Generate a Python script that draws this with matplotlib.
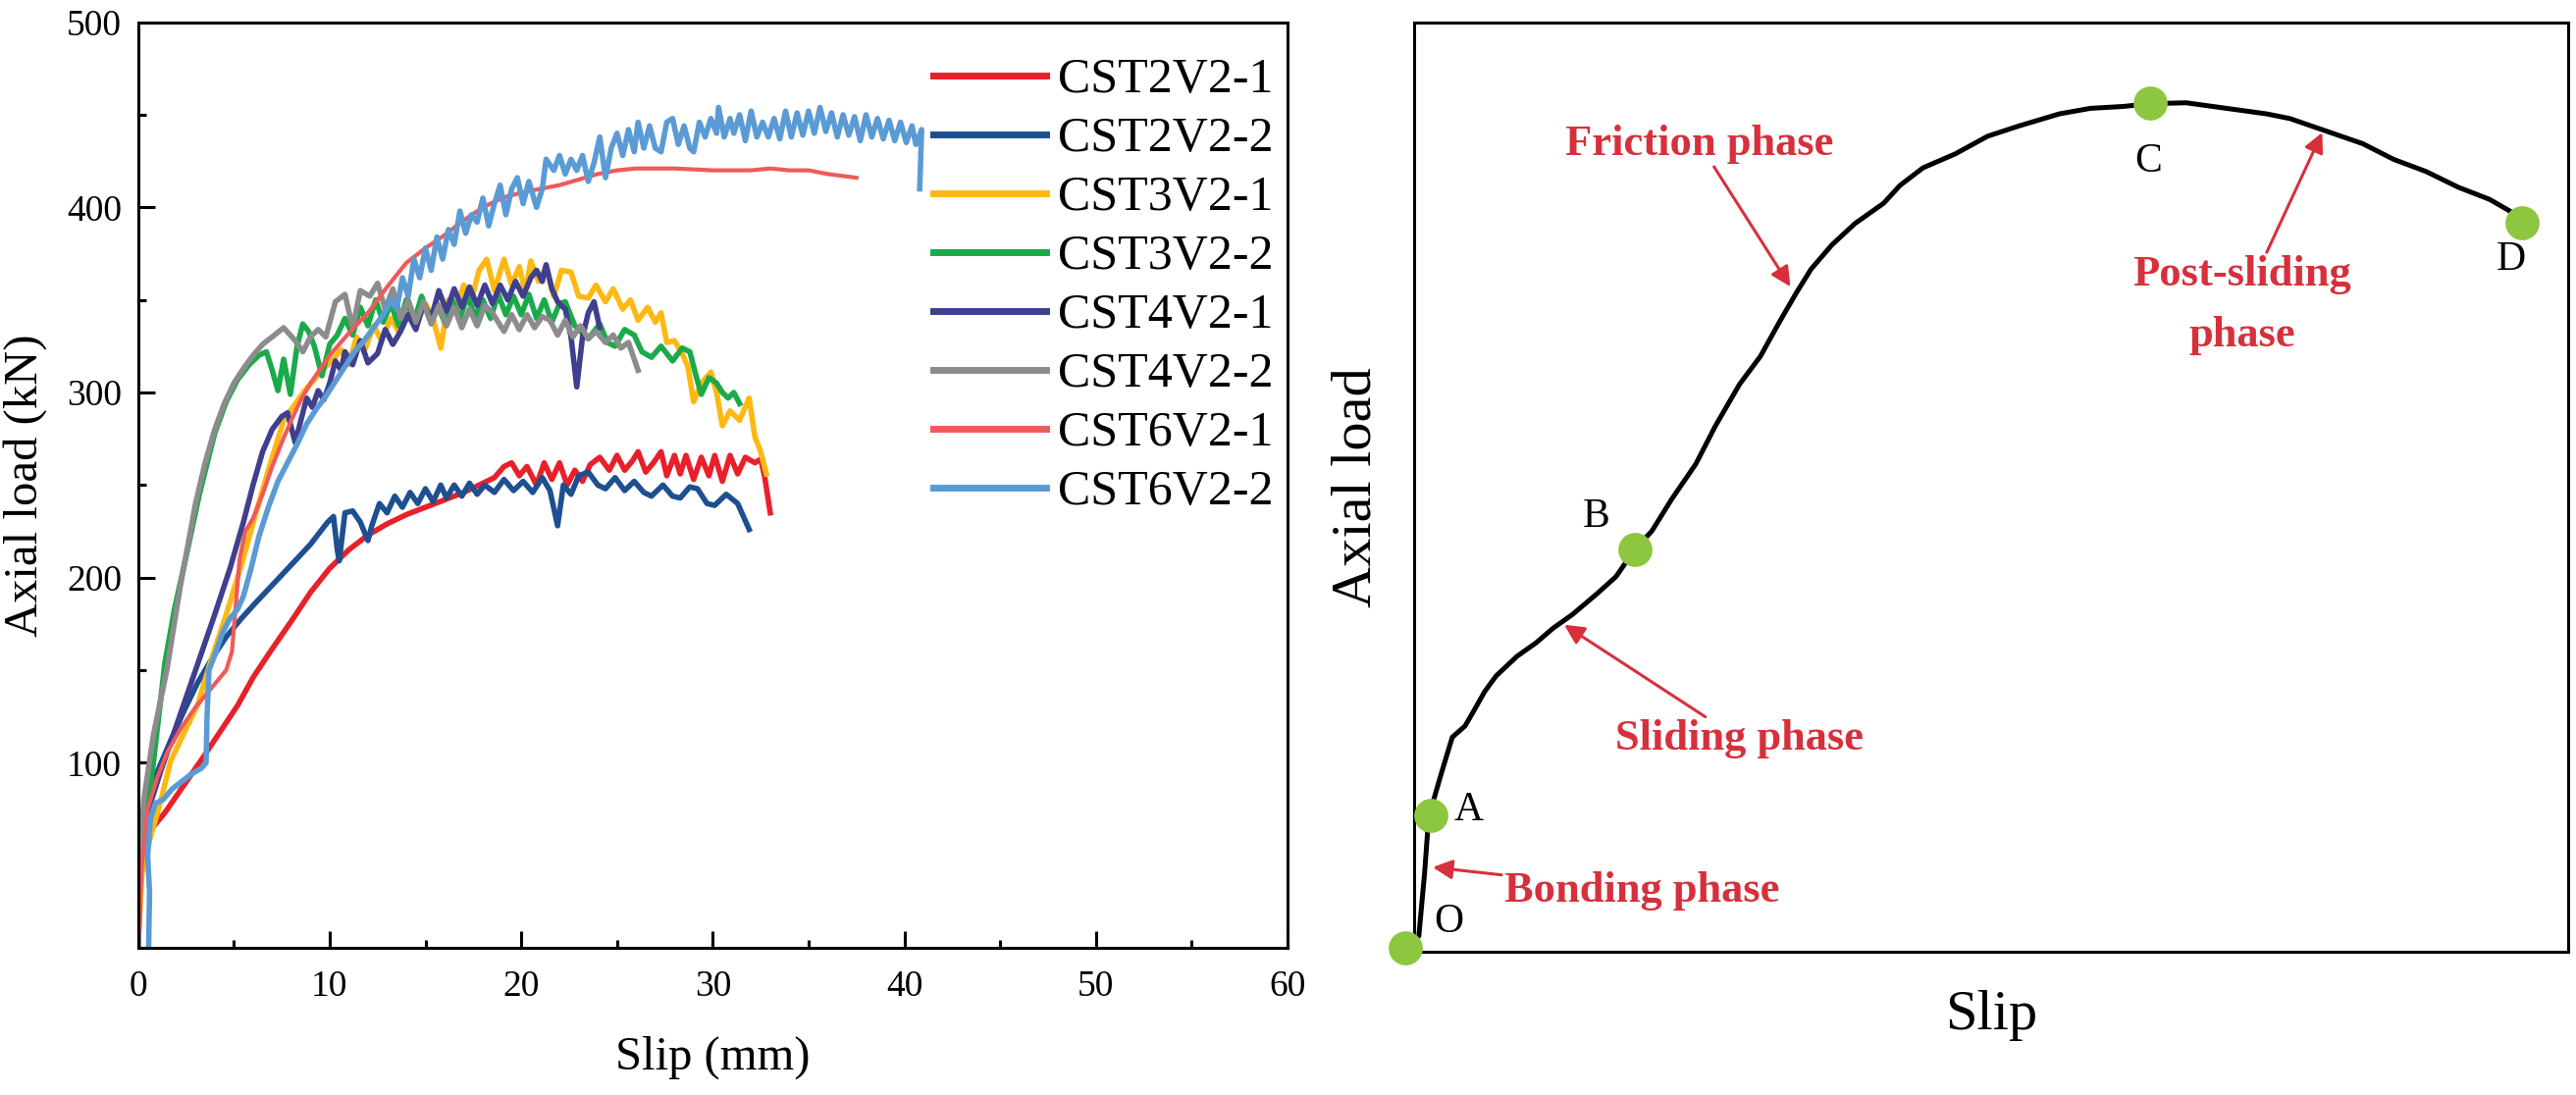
import matplotlib
matplotlib.use('Agg')
import matplotlib.pyplot as plt
from matplotlib.ticker import MultipleLocator

plt.rcParams['font.family'] = ['Liberation Serif', 'DejaVu Serif']
plt.rcParams['mathtext.fontset'] = 'stix'

# ---- left panel: load-slip curves, (slip mm, load kN) ----
specimens = ['CST2V2-1', 'CST2V2-2', 'CST3V2-1', 'CST3V2-2',
             'CST4V2-1', 'CST4V2-2', 'CST6V2-1', 'CST6V2-2']
colors = ['#e8202a', '#1d4f91', '#fdb813', '#1aaa4a',
          '#3f3f8f', '#8c8c8c', '#f0595a', '#5b9bd5']

cst2v2_1 = [(0, 0), (0.15, 40), (0.3, 55), (0.6, 63), (1.4, 73), (2.4, 88), (3.4, 103), (4.3, 117),
            (5.2, 131), (6.0, 146), (6.9, 160), (8.1, 178), (9.0, 192), (10.0, 205), (11.0, 215),
            (12.0, 223), (13.0, 229), (14.0, 234), (15.0, 238), (16.0, 242), (17.0, 246), (18.0, 251),
            (18.6, 254), (19.1, 260), (19.5, 262), (19.9, 255), (20.3, 260), (20.8, 250), (21.2, 262),
            (21.6, 253), (22.0, 262), (22.4, 250), (22.8, 258), (23.2, 252), (23.6, 261), (24.1, 265),
            (24.6, 258), (25.0, 266), (25.4, 258), (25.8, 263), (26.1, 268), (26.5, 257), (26.9, 262),
            (27.3, 268), (27.6, 255), (28.0, 266), (28.3, 256), (28.6, 266), (29.0, 253), (29.4, 265),
            (29.8, 255), (30.1, 266), (30.5, 252), (30.9, 266), (31.3, 256), (31.7, 265), (32.2, 262),
            (32.5, 264), (32.7, 255), (33.0, 235)]
cst2v2_2 = [(0, 0), (0.1, 45), (0.4, 75), (1.0, 95), (1.7, 112), (2.4, 128), (3.1, 143), (3.9, 157),
            (4.6, 168), (5.4, 178), (6.1, 186), (7.1, 197), (8.1, 208), (9.0, 218), (9.9, 230),
            (10.2, 233), (10.4, 215), (10.5, 209), (10.8, 235), (11.2, 236), (11.6, 230), (12.0, 220),
            (12.2, 228), (12.6, 240), (13.0, 235), (13.4, 244), (13.8, 238), (14.2, 246), (14.6, 240),
            (15.0, 248), (15.4, 241), (15.8, 250), (16.1, 243), (16.5, 250), (16.9, 244), (17.3, 251),
            (17.7, 245), (18.1, 250), (18.6, 246), (19.1, 253), (19.6, 247), (20.1, 252), (20.6, 246),
            (21.1, 254), (21.5, 247), (21.9, 228), (22.2, 250), (22.6, 245), (23.0, 255), (23.5, 257),
            (24.0, 250), (24.4, 248), (24.9, 254), (25.4, 247), (25.9, 252), (26.4, 246), (26.8, 244),
            (27.4, 250), (27.9, 244), (28.3, 243), (28.8, 249), (29.2, 248), (29.7, 240), (30.1, 239),
            (30.7, 245), (31.3, 240), (31.9, 226)]
cst3v2_1 = [(0, 0), (0.2, 40), (0.6, 58), (1.2, 80), (1.7, 101), (2.4, 116), (3.1, 131), (3.8, 155),
            (4.6, 180), (5.4, 207), (6.1, 233), (6.8, 258), (7.6, 285), (8.7, 301), (9.7, 313),
            (10.2, 318), (10.6, 323), (11.0, 315), (11.4, 330), (11.8, 322), (12.3, 336), (12.7, 328),
            (13.2, 340), (13.6, 333), (14.1, 345), (14.5, 336), (15.0, 348), (15.4, 340), (15.8, 324),
            (16.2, 350), (16.6, 345), (17.0, 358), (17.4, 350), (17.8, 366), (18.2, 372), (18.6, 355),
            (19.1, 372), (19.5, 358), (19.9, 368), (20.2, 354), (20.5, 371), (20.9, 360), (21.3, 368),
            (21.7, 352), (22.1, 366), (22.6, 365), (23.0, 352), (23.5, 351), (23.9, 358), (24.4, 349),
            (24.8, 356), (25.3, 345), (25.7, 350), (26.1, 339), (26.6, 346), (27.0, 338), (27.3, 343),
            (27.6, 327), (28.0, 328), (28.4, 321), (28.7, 314), (29.0, 295), (29.4, 305), (29.9, 311),
            (30.2, 300), (30.5, 282), (30.9, 290), (31.4, 285), (31.9, 297), (32.2, 276), (32.5, 268),
            (32.8, 256)]
cst3v2_2 = [(0, 0), (0.1, 40), (0.3, 60), (0.8, 100), (1.4, 154), (1.9, 183), (2.5, 211), (3.2, 245),
            (4.0, 278), (4.6, 295), (5.2, 307), (5.8, 315), (6.3, 320), (6.7, 322), (7.0, 312),
            (7.3, 301), (7.6, 318), (7.95, 299), (8.3, 325), (8.6, 337), (8.9, 333), (9.2, 325),
            (9.6, 309), (10.0, 326), (10.4, 331), (10.8, 340), (11.2, 331), (11.6, 346), (12.0, 336),
            (12.4, 350), (12.8, 338), (13.2, 348), (13.6, 336), (14.0, 350), (14.4, 338), (14.8, 352),
            (15.2, 340), (15.6, 348), (16.0, 338), (16.4, 350), (16.8, 340), (17.2, 352), (17.6, 341),
            (18.0, 350), (18.4, 340), (18.8, 353), (19.2, 342), (19.6, 352), (20.0, 342), (20.4, 353),
            (20.8, 340), (21.2, 350), (21.6, 338), (22.0, 348), (22.3, 349), (22.8, 336), (23.5, 329),
            (24.1, 337), (24.5, 327), (24.9, 325), (25.4, 334), (25.9, 331), (26.3, 322), (26.8, 319),
            (27.3, 325), (27.9, 317), (28.4, 324), (28.8, 322), (29.1, 310), (29.4, 299), (29.8, 308),
            (30.2, 305), (30.5, 300), (30.8, 297), (31.1, 300), (31.4, 294)]
cst4v2_1 = [(0, 0), (0.1, 45), (0.4, 70), (1.2, 96), (2.0, 120), (3.0, 150), (4.0, 180), (4.8, 205),
            (5.5, 230), (6.0, 250), (6.5, 268), (7.0, 280), (7.5, 287), (7.8, 289), (8.2, 273),
            (8.5, 285), (8.8, 297), (9.1, 292), (9.4, 301), (9.7, 296), (10.0, 305), (10.3, 317),
            (10.6, 312), (10.8, 322), (11.2, 315), (11.6, 328), (12.0, 316), (12.5, 321), (12.9, 334),
            (13.3, 326), (13.7, 333), (14.1, 342), (14.5, 334), (14.9, 348), (15.3, 340), (15.7, 355),
            (16.1, 344), (16.5, 356), (16.9, 346), (17.3, 357), (17.7, 347), (18.1, 358), (18.5, 348),
            (18.9, 358), (19.3, 350), (19.7, 360), (20.1, 352), (20.5, 362), (20.8, 366), (21.1, 360),
            (21.3, 369), (21.6, 356), (21.9, 349), (22.3, 345), (22.6, 330), (22.9, 303), (23.2, 330),
            (23.5, 343), (23.8, 349), (24.1, 335)]
cst4v2_2 = [(0, 0), (0.1, 50), (0.3, 80), (0.8, 115), (1.5, 150), (2.2, 195), (3.0, 240), (3.5, 262),
            (4.0, 280), (4.5, 294), (5.0, 305), (5.5, 313), (6.0, 320), (6.5, 326), (7.0, 330),
            (7.6, 335), (8.2, 328), (8.6, 322), (9.0, 330), (9.4, 334), (9.8, 330), (10.3, 349),
            (10.8, 353), (11.2, 335), (11.6, 355), (12.1, 352), (12.5, 359), (12.9, 345), (13.3, 356),
            (13.7, 340), (14.1, 350), (14.5, 338), (14.9, 349), (15.3, 337), (15.7, 347), (16.1, 336),
            (16.5, 346), (16.9, 335), (17.3, 345), (17.7, 336), (18.1, 347), (18.5, 343), (19.1, 333),
            (19.5, 342), (19.9, 334), (20.3, 342), (20.7, 335), (21.1, 341), (21.5, 339), (21.9, 331),
            (22.3, 339), (22.7, 330), (23.1, 336), (23.5, 329), (23.9, 333), (24.4, 327), (24.8, 331),
            (25.2, 324), (25.6, 327), (26.1, 312)]
cst6v2_1 = [(0, 0), (0.2, 45), (0.5, 75), (1.0, 92), (1.5, 105), (2.2, 118), (3.0, 130), (3.8, 140),
            (4.6, 150), (4.9, 160), (5.1, 185), (5.3, 210), (5.6, 225), (6.0, 232), (6.5, 245),
            (7.0, 260), (7.5, 273), (8.0, 285), (8.5, 296), (9.0, 305), (10.0, 320), (11.0, 332),
            (12.0, 343), (13.0, 357), (14.0, 370), (15.0, 378), (16.0, 385), (17.0, 393), (18.0, 400),
            (19.0, 405), (20.0, 408), (21.0, 410), (22.0, 412), (23.0, 415), (24.0, 418), (25.0, 420),
            (26.0, 421), (28.0, 421), (30.0, 420), (32.0, 420), (33.0, 421), (34.0, 420), (35.0, 420),
            (36.0, 418), (37.5, 416)]
cst6v2_2 = [(0.55, 0), (0.6, 30), (0.5, 50), (0.65, 70), (0.9, 78), (1.3, 80), (1.8, 86), (2.3, 90),
            (2.8, 94), (3.3, 97), (3.55, 100), (3.6, 125), (3.7, 150), (4.0, 158), (4.4, 170), (4.8, 178),
            (5.2, 183), (5.5, 190), (5.9, 205), (6.3, 222), (6.8, 238), (7.3, 252), (7.8, 262), (8.3, 272),
            (8.8, 283), (9.3, 291), (9.8, 298), (10.3, 306), (10.8, 314), (11.3, 322), (11.8, 328),
            (12.3, 335), (12.8, 342), (13.2, 350), (13.5, 345), (13.8, 362), (14.1, 352), (14.4, 372),
            (14.7, 362), (15.0, 378), (15.3, 366), (15.6, 384), (15.9, 372), (16.2, 388), (16.5, 380),
            (16.8, 398), (17.1, 386), (17.4, 396), (17.7, 392), (18.0, 405), (18.3, 390), (18.6, 402),
            (18.9, 412), (19.2, 396), (19.5, 410), (19.8, 416), (20.1, 402), (20.4, 414), (20.8, 400),
            (21.1, 410), (21.3, 426), (21.7, 420), (22.0, 428), (22.3, 418), (22.6, 426), (22.9, 420),
            (23.2, 428), (23.5, 414), (23.8, 424), (24.1, 438), (24.4, 416), (24.7, 432), (25.0, 440),
            (25.3, 428), (25.6, 442), (25.9, 430), (26.1, 446), (26.4, 432), (26.7, 444), (27.0, 432),
            (27.3, 430), (27.6, 446), (27.9, 448), (28.2, 434), (28.5, 444), (28.8, 432), (29.0, 430),
            (29.3, 446), (29.6, 438), (29.9, 448), (30.2, 440), (30.3, 454), (30.6, 438), (30.9, 448),
            (31.1, 440), (31.4, 450), (31.7, 436), (32.0, 452), (32.3, 438), (32.6, 446), (32.9, 438),
            (33.2, 448), (33.5, 437), (33.8, 452), (34.1, 438), (34.4, 451), (34.7, 439), (35.0, 452),
            (35.3, 440), (35.6, 454), (35.9, 441), (36.2, 451), (36.5, 438), (36.8, 450), (37.1, 439),
            (37.4, 449), (37.7, 436), (38.0, 450), (38.3, 438), (38.6, 448), (38.9, 437), (39.2, 447),
            (39.5, 436), (39.8, 446), (40.1, 435), (40.4, 444), (40.6, 434), (40.9, 442), (40.85, 425),
            (40.8, 410)]
curves = [cst2v2_1, cst2v2_2, cst3v2_1, cst3v2_2, cst4v2_1, cst4v2_2, cst6v2_1, cst6v2_2]
widths = [4, 4, 4, 4, 4, 4, 3, 4]

# ---- right panel: schematic load-slip curve (normalised slip, normalised load) ----
schem_slip = [-0.008, 0.004, 0.009, 0.0125, 0.023, 0.033, 0.044, 0.051, 0.061, 0.071, 0.089, 0.106,
              0.120, 0.137, 0.158, 0.175, 0.191, 0.206, 0.223, 0.244, 0.261, 0.282, 0.300, 0.317,
              0.331, 0.344, 0.362, 0.382, 0.407, 0.421, 0.441, 0.469, 0.497, 0.524, 0.559, 0.586,
              0.614, 0.638, 0.669, 0.704, 0.739, 0.759, 0.787, 0.822, 0.849, 0.877, 0.905, 0.932,
              0.953, 0.960]
schem_load = [0.004, 0.017, 0.085, 0.145, 0.190, 0.231, 0.243, 0.258, 0.280, 0.297, 0.318, 0.333,
              0.348, 0.363, 0.385, 0.404, 0.433, 0.453, 0.487, 0.525, 0.566, 0.611, 0.641, 0.679,
              0.709, 0.735, 0.761, 0.784, 0.806, 0.825, 0.844, 0.859, 0.878, 0.889, 0.902, 0.908,
              0.910, 0.913, 0.914, 0.908, 0.902, 0.897, 0.885, 0.870, 0.853, 0.840, 0.823, 0.810,
              0.795, 0.785]
point_names = ['O', 'A', 'B', 'C', 'D']
point_slip = [-0.008, 0.0145, 0.191, 0.638, 0.960]
point_load = [0.004, 0.1465, 0.433, 0.914, 0.785]

fig = plt.figure(figsize=(26.25, 11.16), dpi=100)
ax1 = fig.add_axes([0.0536, 0.1344, 0.4462, 0.8453])
ax2 = fig.add_axes([0.549, 0.1308, 0.4479, 0.8483])

for data, name, c, lw in zip(curves, specimens, colors, widths):
    xs = [p[0] for p in data]
    ys = [p[1] for p in data]
    ax1.plot(xs, ys, color=c, lw=lw, label=name, solid_joinstyle='round')

ax1.set_xlim(0, 60)
ax1.set_ylim(0, 500)
ax1.xaxis.set_major_locator(MultipleLocator(10))
ax1.xaxis.set_minor_locator(MultipleLocator(5))
ax1.set_yticks([100, 200, 300, 400, 500])
ax1.yaxis.set_minor_locator(MultipleLocator(50))
ax1.tick_params(which='both', direction='in', width=2.2, labelsize=27)
ax1.tick_params(which='major', length=12)
ax1.tick_params(which='minor', length=6)
ax1.tick_params(axis='x', pad=16)
ax1.tick_params(axis='y', pad=12)
for s in ax1.spines.values():
    s.set_linewidth(2.2)
ax1.set_xlabel('Slip (mm)', fontsize=35)
ax1.set_ylabel('Axial load (kN)', fontsize=35)
ax1.xaxis.label.set_va('center')
ax1.yaxis.label.set_va('center')
ax1.xaxis.set_label_coords(0.5, -0.119)
ax1.yaxis.set_label_coords(-0.098, 0.5)

leg = ax1.legend(loc='upper right', bbox_to_anchor=(0.988, 0.962), frameon=False,
                 fontsize=36, handlelength=2.3, handletextpad=0.25, labelspacing=0.27,
                 borderaxespad=0.0, borderpad=0.0)
for h in leg.get_lines():
    h.set_linewidth(5)

# right panel
red = '#d6303c'
ax2.plot(schem_slip, schem_load, color='black', lw=3.6, clip_on=False, zorder=2)
ax2.plot(point_slip, point_load, 'o', color='#8dc63f', ms=25, mec='none', clip_on=False, zorder=3)
ax2.set_xlim(0, 1)
ax2.set_ylim(0, 1)
ax2.set_xticks([])
ax2.set_yticks([])
for s in ax2.spines.values():
    s.set_linewidth(2.2)
ax2.set_xlabel('Slip', fontsize=42)
ax2.set_ylabel('Axial load', fontsize=42)
ax2.xaxis.label.set_va('center')
ax2.yaxis.label.set_va('center')
ax2.xaxis.set_label_coords(0.5, -0.069)
ax2.yaxis.set_label_coords(-0.05, 0.5)

label_pos = {'O': (0.030, 0.032), 'A': (0.047, 0.152), 'B': (0.158, 0.468),
             'C': (0.636, 0.851), 'D': (0.951, 0.745)}
for n in point_names:
    ax2.text(*label_pos[n], n, fontsize=30, ha='center', va='center')

arrow = dict(arrowstyle='-|>', color=red, lw=2.2, mutation_scale=30, shrinkA=0, shrinkB=0)
ax2.annotate('Friction phase', xy=(0.326, 0.716), xytext=(0.2475, 0.848), color=red,
             fontsize=32, fontweight='bold', ha='center', va='bottom', arrowprops=arrow)
ax2.annotate('Post-sliding\nphase', xy=(0.787, 0.882), xytext=(0.7177, 0.750), color=red,
             fontsize=32, fontweight='bold', ha='center', va='top', linespacing=1.7,
             arrowprops=arrow)
ax2.annotate('Sliding phase', xy=(0.130, 0.352), xytext=(0.282, 0.250), color=red,
             fontsize=32, fontweight='bold', ha='center', va='top', arrowprops=arrow)
ax2.annotate('Bonding phase', xy=(0.016, 0.091), xytext=(0.078, 0.066), color=red,
             fontsize=32, fontweight='bold', ha='left', va='center', arrowprops=arrow)

fig.savefig('out.png', dpi=100)
